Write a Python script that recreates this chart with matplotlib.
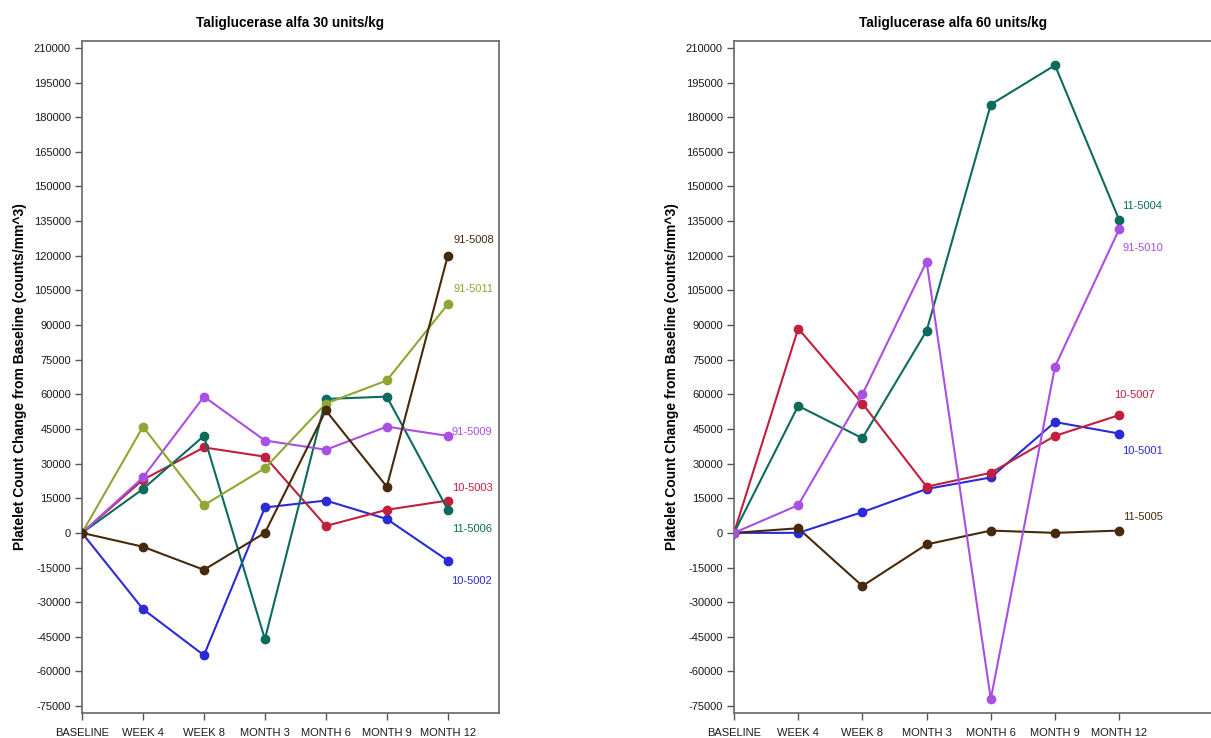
import matplotlib
matplotlib.use('Agg')
import matplotlib.pyplot as plt

plt.rcParams['font.family'] = ['Liberation Sans', 'DejaVu Sans']

# visits on the x axis
visits = ['BASELINE', 'WEEK 4', 'WEEK 8', 'MONTH 3', 'MONTH 6', 'MONTH 9', 'MONTH 12']
yticks = list(range(-75000, 210001, 15000))

# 30 units/kg patients
p_10_5002 = [0, -33000, -53000, 11000, 14000, 6000, -12000]
p_10_5003 = [0, 23000, 37000, 33000, 3000, 10000, 14000]
p_11_5006 = [0, 19000, 42000, -46000, 58000, 59000, 10000]
p_91_5008 = [0, -6000, -16000, 0, 53000, 20000, 120000]
p_91_5009 = [0, 24000, 59000, 40000, 36000, 46000, 42000]
p_91_5011 = [0, 46000, 12000, 28000, 56000, 66000, 99000]

# 60 units/kg patients
p_10_5001 = [0, 0, 9000, 19000, 24000, 48000, 43000]
p_10_5007 = [0, 88500, 56000, 20000, 26000, 42000, 51000]
p_11_5004 = [0, 55000, 41000, 87500, 185500, 202500, 135500]
p_91_5010 = [0, 12000, 60000, 117500, -72000, 72000, 131500]
p_11_5005 = [0, 2000, -23000, -5000, 1000, 0, 1000]

BLUE = '#2b2bd6'
RED = '#c11f3c'
TEAL = '#0c6b5c'
BROWN = '#472a0c'
PURPLE = '#a94fe3'
OLIVE = '#8ea633'

# (name, values, colour, label offset in pixels)
left_series = [
    ('10-5002', p_10_5002, BLUE, (3, -20)),
    ('10-5003', p_10_5003, RED, (4, 13)),
    ('11-5006', p_11_5006, TEAL, (4, -19)),
    ('91-5009', p_91_5009, PURPLE, (4, 4)),
    ('91-5011', p_91_5011, OLIVE, (6, 15)),
    ('91-5008', p_91_5008, BROWN, (6, 16)),
]
right_series = [
    ('10-5001', p_10_5001, BLUE, (3, -17)),
    ('10-5007', p_10_5007, RED, (-5, 20)),
    ('11-5005', p_11_5005, BROWN, (4, 14)),
    ('11-5004', p_11_5004, TEAL, (3, 14)),
    ('91-5010', p_91_5010, PURPLE, (3, -19)),
]

fig = plt.figure(figsize=(12.11, 7.38), dpi=100)
ax1 = fig.add_axes([82 / 1211, 1 - 713 / 738, 417 / 1211, 672 / 738])
ax2 = fig.add_axes([734 / 1211, 1 - 713 / 738, 516 / 1211, 672 / 738])

x = list(range(len(visits)))


def draw(ax, series, xmax, title_x, title):
    for name, vals, col, off in series:
        ax.plot(x, vals, color=col, lw=1.5, marker='o', ms=6, zorder=3)
        ax.annotate(name, (x[-1], vals[-1]), xytext=off, textcoords='offset pixels',
                    color=col, fontsize=8, ha='left', va='center',
                    annotation_clip=False)
    ax.set_xlim(0, xmax)
    ax.set_ylim(-78000, 213000)
    ax.set_xticks(x)
    ax.set_xticklabels(visits)
    ax.set_yticks(yticks)
    ax.set_yticklabels([str(v) for v in yticks])
    ax.tick_params(direction='out', length=5, width=1, labelsize=8,
                   colors='#555555', labelcolor='#1a1a1a', pad=3)
    ax.tick_params(axis='x', pad=6)
    for s in ax.spines.values():
        s.set_color('#666666')
        s.set_linewidth(1.2)
    ax.set_ylabel('Platelet Count Change from Baseline (counts/mm^3)',
                  fontsize=10, fontweight='bold', labelpad=5)
    fig.text(title_x / 1211, 1 - 23 / 738, title, ha='center', va='center',
             fontsize=9.8, fontweight='bold')


draw(ax1, left_series, 6.84, 290, 'Taliglucerase alfa 30 units/kg')
draw(ax2, right_series, 516 / 64.2, 953, 'Taliglucerase alfa 60 units/kg')

fig.savefig('out.png', dpi=100)
